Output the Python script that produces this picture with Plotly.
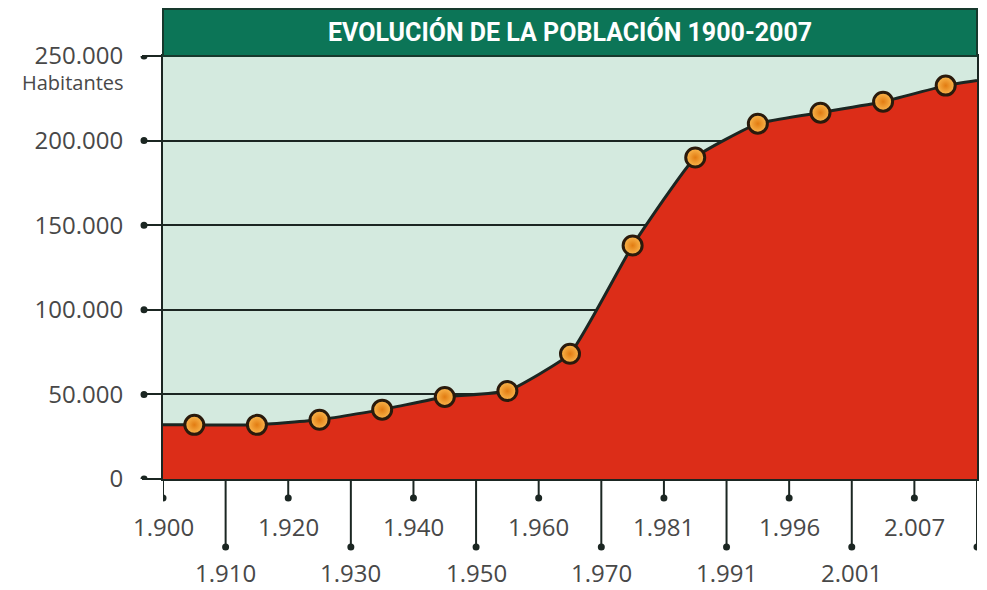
import plotly.graph_objects as go

# ---- data ----
years = ["1.900", "1.910", "1.920", "1.930", "1.940", "1.950", "1.960",
         "1.970", "1.981", "1.991", "1.996", "2.001", "2.007"]
population = [32000, 32000, 35000, 41000, 48500, 52000, 74000,
              138000, 190000, 210000, 216500, 223000, 232500]
edge_start = 32000     # level of the area at the left border
edge_end = 235500      # level of the area at the right border
y_tickvals = [0, 50000, 100000, 150000, 200000, 250000]
y_ticktext = ["0", "50.000", "100.000", "150.000", "200.000", "250.000"]
title_text = "EVOLUCIÓN DE LA POBLACIÓN 1900-2007"
unit_text = "Habitantes"

# ---- styling ----
RED = "#dc2d18"
BG = "#d4eadf"
GREEN = "#0c7557"
DARK = "#1b2622"
TXT = "#484848"
FONT = "Open Sans"

n = len(years)
mid_x = [i + 0.5 for i in range(n)]
area_x = [0] + mid_x + [n]
area_y = [edge_start] + population + [edge_end]

fig = go.Figure()
fig.add_trace(go.Scatter(
    x=area_x, y=area_y, mode="lines", fill="tozeroy", fillcolor=RED,
    line=dict(color=DARK, width=3, shape="spline", smoothing=0.4),
    hoverinfo="skip", showlegend=False))
fig.add_trace(go.Scatter(
    x=mid_x, y=population, mode="markers", showlegend=False,
    marker=dict(size=19, color="#fbb84f",
                gradient=dict(type="radial", color="#e27c12"),
                line=dict(color="#2a1a0c", width=3)),
    text=years, hovertemplate="%{text}: %{y}<extra></extra>"))

shapes = []
annotations = []

# title bar above the plot area
shapes.append(dict(type="rect", xref="paper", yref="paper", x0=0, x1=1,
                   y0=1, y1=1 + 47 / 423, fillcolor=GREEN,
                   line=dict(color="#16392d", width=2), layer="above"))
annotations.append(dict(text=f"<b>{title_text}</b>", xref="paper", yref="paper",
                        x=0.5, y=1, yshift=24, yanchor="middle", showarrow=False,
                        font=dict(family="Roboto", size=25, color="white")))

# y tick dots
for v in y_tickvals:
    shapes.append(dict(type="circle", xref="paper", xsizemode="pixel", xanchor=0,
                       x0=-22.5, x1=-15.5, yref="y", ysizemode="pixel", yanchor=v,
                       y0=-3.5, y1=3.5, fillcolor=DARK, line=dict(width=0)))

# x ticks: alternating short / long with dots and labels
for i in range(n + 1):
    long_tick = (i % 2 == 1)
    L = 68 if long_tick else 19
    shapes.append(dict(type="line", xref="x", x0=i, x1=i, yref="paper",
                       ysizemode="pixel", yanchor=0, y0=0, y1=-L,
                       line=dict(color=DARK, width=2)))
    shapes.append(dict(type="circle", xref="x", xsizemode="pixel", xanchor=i,
                       x0=-3.5, x1=3.5, yref="paper", ysizemode="pixel", yanchor=0,
                       y0=-L - 3.5, y1=-L + 3.5, fillcolor=DARK, line=dict(width=0)))
    if i < n:
        annotations.append(dict(text=years[i], xref="x", x=i, yref="paper", y=0,
                                yanchor="middle", yshift=-93 if long_tick else -47,
                                showarrow=False,
                                font=dict(family=FONT, size=24, color=TXT)))

annotations.append(dict(text=unit_text, xref="paper", x=0, xanchor="right", xshift=-37,
                        yref="paper", y=1, yshift=-26, yanchor="middle", showarrow=False,
                        font=dict(family=FONT, size=20, color=TXT)))

fig.update_layout(
    width=987, height=590,
    margin=dict(l=163, r=8, t=56, b=111),
    paper_bgcolor="white", plot_bgcolor=BG,
    shapes=shapes, annotations=annotations,
    xaxis=dict(range=[0, n], showgrid=False, zeroline=False, showticklabels=False,
               ticks="", showline=True, mirror=True, linecolor=DARK, linewidth=2,
               fixedrange=True),
    yaxis=dict(range=[0, 250000], tickvals=y_tickvals, ticktext=y_ticktext,
               showgrid=True, gridcolor=DARK, gridwidth=2, zeroline=False,
               ticks="outside", ticklen=19, tickwidth=2, tickcolor=DARK,
               ticklabelstandoff=14,
               tickfont=dict(family=FONT, size=24, color=TXT),
               showline=True, mirror=True, linecolor=DARK, linewidth=2,
               fixedrange=True),
)

fig.write_html("out.html", config={"displayModeBar": False},
               post_script="document.body.style.margin='0';document.body.style.overflow='hidden';")
